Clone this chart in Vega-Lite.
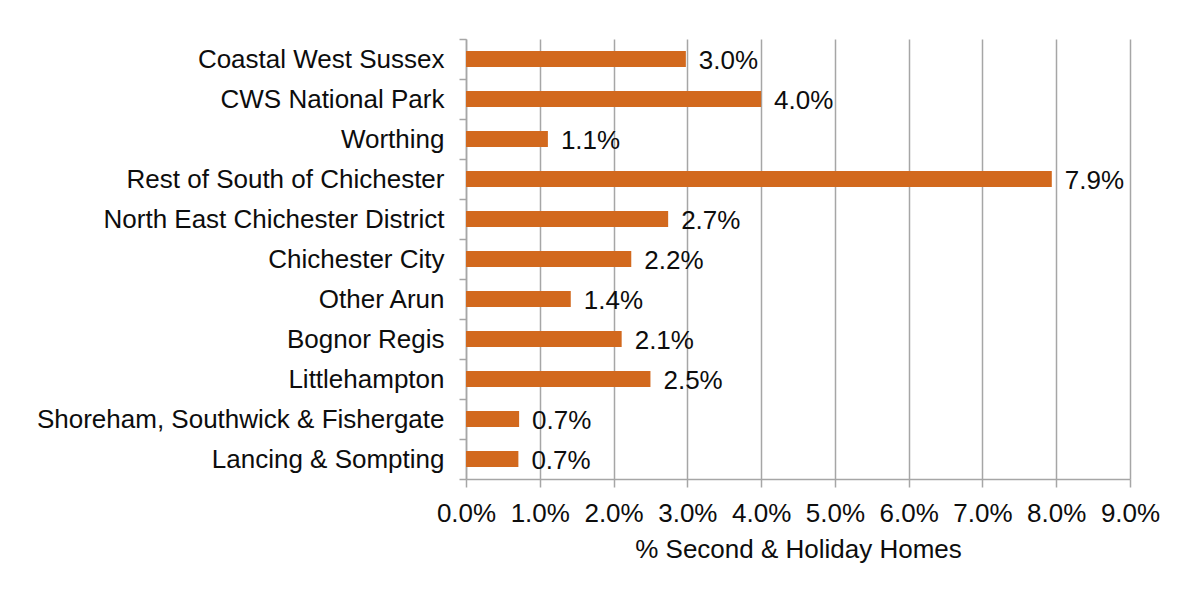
{
  "$schema": "https://vega.github.io/schema/vega-lite/v6.json",
  "autosize": {"type": "none"},
  "padding": {"left": 466, "top": 39, "right": 48, "bottom": 111},
  "width": 664,
  "height": 440,
  "background": "white",
  "config": {
    "font": "Liberation Sans",
    "view": {"stroke": null}
  },
  "data": {
    "values": [
      {"area": "Coastal West Sussex", "share": 0.0298},
      {"area": "CWS National Park", "share": 0.0400},
      {"area": "Worthing", "share": 0.0111},
      {"area": "Rest of South of Chichester", "share": 0.0794},
      {"area": "North East Chichester District", "share": 0.0274},
      {"area": "Chichester City", "share": 0.0224},
      {"area": "Other Arun", "share": 0.0142},
      {"area": "Bognor Regis", "share": 0.0211},
      {"area": "Littlehampton", "share": 0.0250},
      {"area": "Shoreham, Southwick & Fishergate", "share": 0.0072},
      {"area": "Lancing & Sompting", "share": 0.0071}
    ]
  },
  "encoding": {
    "y": {
      "field": "area",
      "type": "nominal",
      "sort": null,
      "scale": {"paddingInner": 0, "paddingOuter": 0},
      "axis": {
        "title": null,
        "tickBand": "extent",
        "labelFontSize": 26,
        "labelColor": "#0d0d0d",
        "labelPadding": 15,
        "tickSize": 7,
        "tickColor": "#A6A6A6",
        "domainColor": "#A6A6A6",
        "domainWidth": 1.5,
        "tickWidth": 1.5,
        "grid": false,
        "labelLimit": 600
      }
    },
    "x": {
      "field": "share",
      "type": "quantitative",
      "scale": {"domain": [0, 0.09], "nice": false},
      "axis": {
        "title": "% Second & Holiday Homes",
        "values": [0, 0.01, 0.02, 0.03, 0.04, 0.05, 0.06, 0.07, 0.08, 0.09],
        "format": ".1%",
        "labelOverlap": false,
        "labelFlush": false,
        "labelFontSize": 26,
        "labelColor": "#0d0d0d",
        "labelPadding": 13,
        "titleFontSize": 26,
        "titleFontWeight": "normal",
        "titleColor": "#0d0d0d",
        "titlePadding": 10,
        "tickSize": 8,
        "tickColor": "#A6A6A6",
        "tickWidth": 1.5,
        "domainColor": "#A6A6A6",
        "domainWidth": 1.5,
        "grid": true,
        "gridColor": "#A6A6A6",
        "gridWidth": 1.5
      }
    }
  },
  "layer": [
    {
      "mark": {"type": "bar", "color": "#D2691E", "height": {"band": 0.4}}
    },
    {
      "mark": {"type": "text", "align": "left", "baseline": "middle", "dx": 13, "dy": 2, "fontSize": 26, "color": "#0d0d0d"},
      "encoding": {
        "text": {"field": "share", "type": "quantitative", "format": ".1%"}
      }
    }
  ]
}
